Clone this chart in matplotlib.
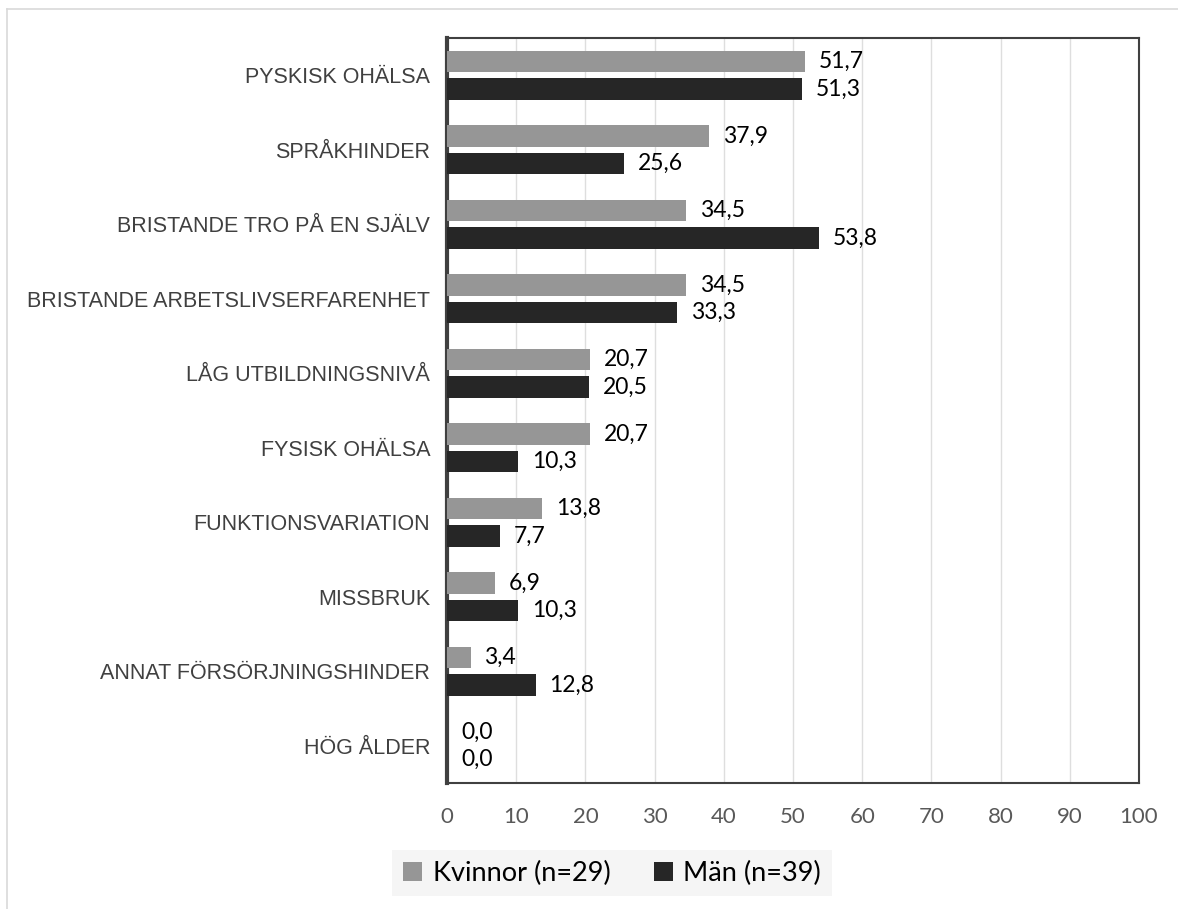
import matplotlib
matplotlib.use("Agg")
import matplotlib.pyplot as plt
import matplotlib.patches as mpatches
import numpy as np

categories = [
    "PYSKISK OHÄLSA",
    "SPRÅKHINDER",
    "BRISTANDE TRO PÅ EN SJÄLV",
    "BRISTANDE ARBETSLIVSERFARENHET",
    "LÅG UTBILDNINGSNIVÅ",
    "FYSISK OHÄLSA",
    "FUNKTIONSVARIATION",
    "MISSBRUK",
    "ANNAT FÖRSÖRJNINGSHINDER",
    "HÖG ÅLDER",
]
kvinnor = [51.7, 37.9, 34.5, 34.5, 20.7, 20.7, 13.8, 6.9, 3.4, 0.0]
man = [51.3, 25.6, 53.8, 33.3, 20.5, 10.3, 7.7, 10.3, 12.8, 0.0]
series_names = ["Kvinnor (n=29)", "Män (n=39)"]

C_K = "#969696"
C_M = "#262626"
C_SPINE = "#404040"
NUM_FONT = ["Lato", "DejaVu Sans"]

fig = plt.figure(figsize=(11.78, 9.09), dpi=100)
ax = fig.add_axes([447 / 1178, 1 - 783 / 909, (1139 - 447) / 1178, (783 - 38) / 909])

y = np.arange(len(categories))
off, h = 0.185, 0.29
bars_k = ax.barh(y - off, kvinnor, height=h, color=C_K, zorder=3)
bars_m = ax.barh(y + off, man, height=h, color=C_M, zorder=3)

for bars, vals in ((bars_k, kvinnor), (bars_m, man)):
    for b, v in zip(bars, vals):
        ax.annotate(f"{v:.1f}".replace(".", ","),
                    xy=(v, b.get_y() + b.get_height() / 2),
                    xytext=(10, 0), textcoords="offset points",
                    ha="left", va="center", fontsize=16.5,
                    family=NUM_FONT, color="black")

ax.set_xlim(0, 100)
ax.set_ylim(len(categories) - 0.5, -0.5)
ax.set_xticks(np.arange(0, 101, 10))
ax.set_yticks(y)
ax.set_yticklabels(categories, family="Liberation Sans", fontsize=15.5,
                   color="#404040")
for t in ax.get_xticklabels():
    t.set_family(NUM_FONT)
    t.set_fontsize(16)
    t.set_color("#595959")
ax.tick_params(axis="both", length=0)
ax.tick_params(axis="y", pad=12)
ax.tick_params(axis="x", pad=17)
ax.grid(axis="x", color="#dedede", lw=1.0, zorder=0)

for side in ("top", "right", "bottom"):
    ax.spines[side].set_color(C_SPINE)
    ax.spines[side].set_linewidth(1.5)
ax.spines["left"].set_color(C_SPINE)
ax.spines["left"].set_linewidth(3)

handles = [mpatches.Patch(facecolor=C_K, label=series_names[0]),
           mpatches.Patch(facecolor=C_M, label=series_names[1])]
leg = fig.legend(handles=handles, loc="center", ncol=2,
                 bbox_to_anchor=(612 / 1178, 1 - 873 / 909),
                 prop={"family": NUM_FONT, "size": 19.5},
                 frameon=True, fancybox=False, facecolor="#f5f5f5",
                 edgecolor="none", framealpha=1,
                 handlelength=0.7, handleheight=0.7, handletextpad=0.4,
                 columnspacing=1.6, borderpad=0.4)

# outer chart border
fig.add_artist(plt.Line2D([7 / 1178, 1], [1 - 9 / 909] * 2,
                          transform=fig.transFigure, color="#d9d9d9", lw=1.2))
fig.add_artist(plt.Line2D([7 / 1178] * 2, [0, 1 - 9 / 909],
                          transform=fig.transFigure, color="#d9d9d9", lw=1.2))

fig.savefig("out.png", dpi=100, facecolor="white")
